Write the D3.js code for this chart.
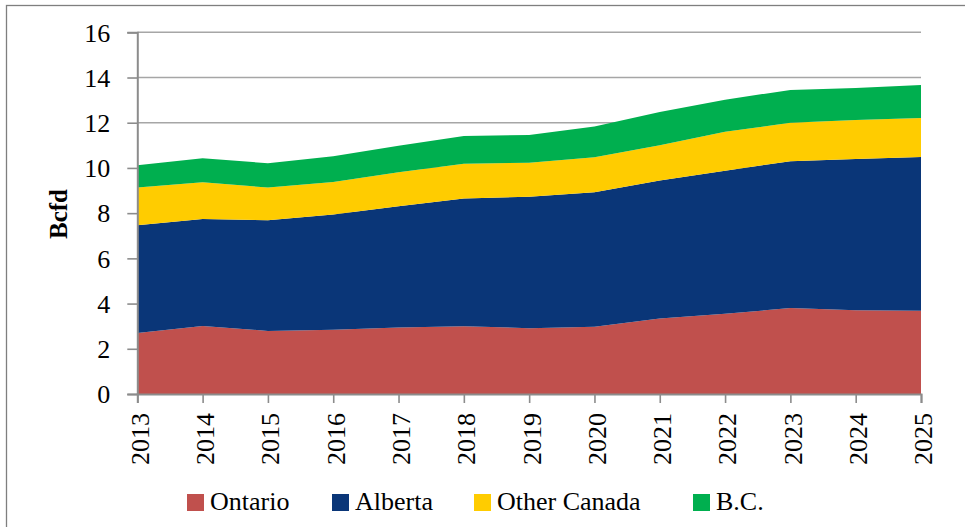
<!DOCTYPE html>
<html>
<head>
<meta charset="utf-8">
<script src="https://cdn.jsdelivr.net/npm/d3@7"></script>
<style>
  body { margin: 0; background: #fff; }
</style>
</head>
<body>
<div id="chart"></div>
<script>
// data (Bcfd)
var years = [2013, 2014, 2015, 2016, 2017, 2018, 2019, 2020, 2021, 2022, 2023, 2024, 2025];
var ontario = [2.70, 3.01, 2.79, 2.84, 2.94, 3.00, 2.91, 2.97, 3.34, 3.55, 3.80, 3.71, 3.68];
var alberta = [4.77, 4.73, 4.90, 5.10, 5.36, 5.65, 5.82, 5.96, 6.10, 6.33, 6.50, 6.68, 6.80];
var otherCanada = [1.66, 1.63, 1.44, 1.44, 1.51, 1.53, 1.50, 1.54, 1.56, 1.72, 1.70, 1.73, 1.73];
var bc = [0.99, 1.06, 1.08, 1.14, 1.17, 1.23, 1.23, 1.36, 1.47, 1.42, 1.45, 1.42, 1.46];
var yTicks = [0, 2, 4, 6, 8, 10, 12, 14, 16];

var keys = ["Ontario", "Alberta", "Other Canada", "B.C."];
var colors = {
  'Ontario': '#C0504D',
  'Alberta': '#0A3678',
  'Other Canada': '#FFCC00',
  'B.C.': '#00AF4F'
};
var serif = "'Liberation Serif', 'DejaVu Serif', serif";

var table = years.map(function(y, i) {
  return { year: y, "Ontario": ontario[i], "Alberta": alberta[i], "Other Canada": otherCanada[i], "B.C.": bc[i] };
});

var W = 965, H = 527;
var margin = { top: 32.3, right: 44, bottom: 133, left: 137.3 };
var width = 921 - margin.left;
var height = 394 - margin.top;

var svg = d3.select("#chart").append("svg")
  .attr("width", W)
  .attr("height", H)
  .style("font-family", serif);

// outer frame
svg.append("rect")
  .attr("x", 6.5).attr("y", 5.5)
  .attr("width", W + 10).attr("height", H + 10)
  .attr("fill", "none")
  .attr("stroke", "#7f7f7f")
  .attr("stroke-width", 1.3);

var g = svg.append("g")
  .attr("transform", "translate(" + margin.left + "," + margin.top + ")");

var x = d3.scaleLinear().domain([years[0], years[years.length - 1]]).range([0, width]);
var y = d3.scaleLinear().domain([0, 16]).range([height, 0]);

// gridlines
g.append("g")
  .selectAll("line")
  .data(yTicks.filter(function(d) { return d > 0; }))
  .enter().append("line")
  .attr("x1", 0).attr("x2", width)
  .attr("y1", function(d) { return y(d); })
  .attr("y2", function(d) { return y(d); })
  .attr("stroke", "#a6a6a6")
  .attr("stroke-width", 1.6);

// stacked areas
var series = d3.stack().keys(keys)(table);
var area = d3.area()
  .x(function(d) { return x(d.data.year); })
  .y0(function(d) { return y(d[0]); })
  .y1(function(d) { return y(d[1]); });

g.selectAll(".layer")
  .data(series)
  .enter().append("path")
  .attr("class", "layer")
  .attr("fill", function(d) { return colors[d.key]; })
  .attr("d", area);

// Y axis
var yAxis = g.append("g")
  .call(d3.axisLeft(y).tickValues(yTicks).tickSize(10).tickPadding(17));
yAxis.attr("font-family", null);
yAxis.select(".domain").attr("stroke", "#8c8c8c").attr("stroke-width", 2);
yAxis.selectAll(".tick line").attr("stroke", "#8c8c8c").attr("stroke-width", 1.6);
yAxis.selectAll("text")
  .style("font-family", serif)
  .style("font-size", "26px")
  .attr("fill", "#000")
  .attr("dy", "0.34em");

// X axis
var xAxis = g.append("g")
  .attr("transform", "translate(0," + height + ")")
  .call(d3.axisBottom(x).tickValues(years).tickFormat(d3.format("d")).tickSize(9).tickPadding(0));
xAxis.attr("font-family", null);
xAxis.select(".domain").attr("stroke", "#8c8c8c").attr("stroke-width", 2);
xAxis.selectAll(".tick line").attr("stroke", "#8c8c8c").attr("stroke-width", 1.6);
xAxis.selectAll("text")
  .style("font-family", serif)
  .style("font-size", "26px")
  .attr("fill", "#000")
  .style("text-anchor", "end")
  .attr("transform", "rotate(-90)")
  .attr("x", -19)
  .attr("y", 0)
  .attr("dy", "0.42em");

// Y title
svg.append("text")
  .attr("transform", "translate(67,214) rotate(-90)")
  .style("font-family", serif)
  .style("text-anchor", "middle")
  .style("font-size", "25px")
  .style("font-weight", "bold")
  .text("Bcfd");

// legend
var legendX = [187, 332, 474, 693];
var legend = svg.append("g");
keys.forEach(function(k, i) {
  legend.append("rect")
    .attr("x", legendX[i]).attr("y", 494)
    .attr("width", 17).attr("height", 17)
    .attr("fill", colors[k]);
  legend.append("text")
    .attr("x", legendX[i] + 23).attr("y", 510)
    .style("font-family", serif)
    .style("font-size", "26px")
    .text(k);
});
</script>
</body>
</html>
